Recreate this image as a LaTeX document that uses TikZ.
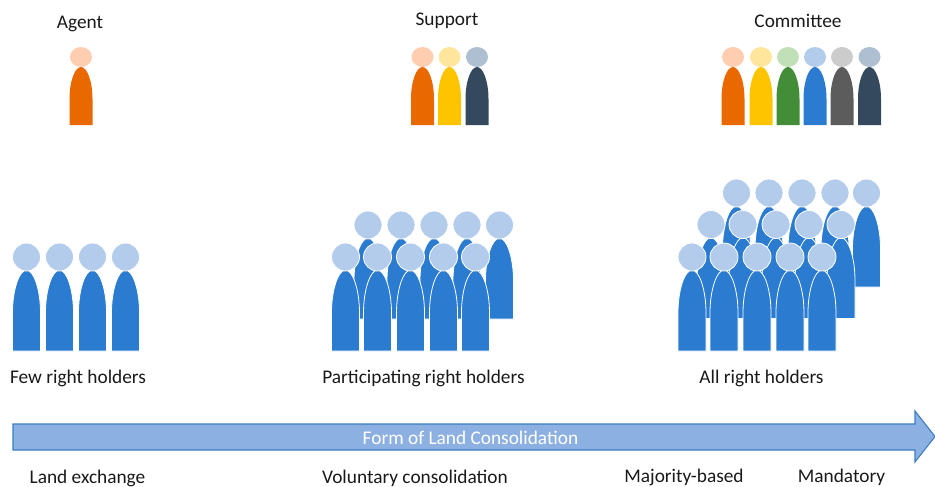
\documentclass[tikz,border=0pt]{standalone}
\usepackage{fontspec}
\setmainfont{Carlito}
\definecolor{orangebody}{HTML}{E96800}
\definecolor{orangehead}{HTML}{FFCDB0}
\definecolor{yellowbody}{HTML}{FFC400}
\definecolor{yellowhead}{HTML}{FFE69C}
\definecolor{greenbody}{HTML}{438C38}
\definecolor{greenhead}{HTML}{C2E0B8}
\definecolor{bluebody}{HTML}{2B7CD0}
\definecolor{bluehead}{HTML}{B3CCEB}
\definecolor{graybody}{HTML}{5C5C5C}
\definecolor{grayhead}{HTML}{CCCCCC}
\definecolor{navybody}{HTML}{34495E}
\definecolor{navyhead}{HTML}{AEBFD2}
\definecolor{arrowfill}{HTML}{8DB0E2}
\definecolor{arrowline}{HTML}{3B7DBF}
\tikzset{
  label/.style={font=\fontsize{14.5}{17}\selectfont, text=black!90, inner sep=0pt},
  crowdline/.style={draw=white, line width=0.6pt}
}
% centre x, body bottom y, colour name
\newcommand{\smallperson}[3]{
  \fill [#3body] (#1-11.5,#2) -- (#1-11.5,#2-26) .. controls (#1-11.5,#2-44) and (#1-6,#2-58) .. (#1,#2-58)
    .. controls (#1+6,#2-58) and (#1+11.5,#2-44) .. (#1+11.5,#2-26) -- (#1+11.5,#2) -- cycle;
  \fill [#3head] (#1,#2-68) circle [x radius=11, y radius=10];
}
\newcommand{\bigperson}[2]{
  \draw [crowdline, fill=bluebody] (#1-14,#2) -- (#1-14,#2-38) .. controls (#1-14,#2-62) and (#1-7,#2-81) .. (#1,#2-81)
    .. controls (#1+7,#2-81) and (#1+14,#2-62) .. (#1+14,#2-38) -- (#1+14,#2) -- cycle;
  \draw [crowdline, fill=bluehead] (#1,#2-94) circle [radius=14];
}
\begin{document}
\begin{tikzpicture}[x=0.75pt,y=-0.75pt]
\useasboundingbox (0,0) rectangle (935,486);
% top row
\smallperson{81}{125}{orange}
\smallperson{422.5}{125}{orange}
\smallperson{449.5}{125}{yellow}
\smallperson{477}{125}{navy}
\smallperson{733}{125}{orange}
\smallperson{761}{125}{yellow}
\smallperson{788}{125}{green}
\smallperson{815}{125}{blue}
\smallperson{842}{125}{gray}
\smallperson{869.5}{125}{navy}
\node [label] (agent) at (80,23.5) {Agent};
\node [label] (support) at (447,21) {Support};
\node [label] (committee) at (798,21) {Committee};
% crowds
\foreach \x in {26.5,59.5,92.5,125.5} {\bigperson{\x}{351}}
\foreach \x in {368,401,434,467,499.5} {\bigperson{\x}{319}}
\foreach \x in {345.5,377.5,410.5,443.5,475.5} {\bigperson{\x}{351}}
\foreach \x in {736.5,769,802,835,866.5} {\bigperson{\x}{287}}
\foreach \x in {711,743,776,809,841} {\bigperson{\x}{318.5}}
\foreach \x in {692,724,757,790,822} {\bigperson{\x}{351}}
\node [label] (few) at (78,378.5) {Few right holders};
\node [label] (participating) at (423.5,378.5) {Participating right holders};
\node [label] (all) at (761.5,378.5) {All right holders};
% arrow
\draw [thick, draw=arrowline, fill=arrowfill] (13,424) -- (915,424) -- (915,411) -- (935,436.5) -- (915,462) -- (915,450) -- (13,450) -- cycle;
\node [label, text=white] (form) at (470.5,438) {Form of Land Consolidation};
\node [label] (exchange) at (87.5,478) {Land exchange};
\node [label] (voluntary) at (415,478) {Voluntary consolidation};
\node [label] (majority) at (684,477.5) {Majority-based};
\node [label] (mandatory) at (841.5,477.5) {Mandatory};
\end{tikzpicture}
\end{document}
